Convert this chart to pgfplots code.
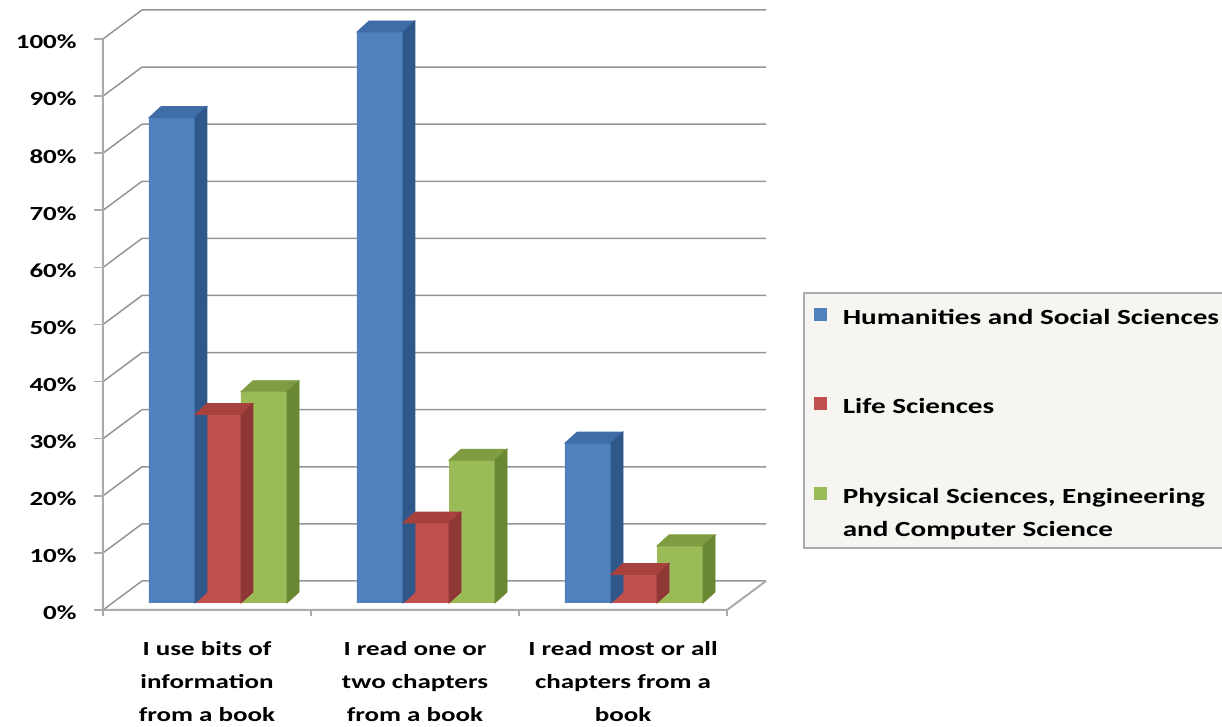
\documentclass[border=0pt]{standalone}
\usepackage{fontspec}
\setmainfont{Carlito}[FakeStretch=1.35]
\usepackage{pgfplots}
\usepackage{pgfplotstable}
\pgfplotsset{compat=1.18}

% Office-style palette: front face, top face, side face
\definecolor{hssfront}{HTML}{4F81BD}
\definecolor{hsstop}{HTML}{3F6DA8}
\definecolor{hssside}{HTML}{30578A}
\definecolor{lifefront}{HTML}{C0504D}
\definecolor{lifetop}{HTML}{A8413D}
\definecolor{lifeside}{HTML}{8E3734}
\definecolor{physfront}{HTML}{9BBB59}
\definecolor{phystop}{HTML}{7F9C43}
\definecolor{physside}{HTML}{6A8734}
\definecolor{gridgray}{HTML}{959595}
\definecolor{axisgray}{HTML}{ABABAB}
\definecolor{legendbg}{HTML}{F6F5F1}

% an empty mark: the scatter hook below draws the bar's depth faces
\pgfdeclareplotmark{void}{}

% share of respondents (%) per usage category
\pgfplotstableread{
cat val
0 85
1 100
2 28
}\tabhum
\pgfplotstableread{
cat val
0 33
1 14
2 5
}\tablife
\pgfplotstableread{
cat val
0 37
1 25
2 10
}\tabphys

\pgfplotsset{
  % top and side faces of a bar: #1 bar shift, #2 side colour, #3 top colour
  prism/.style n args={3}{
    only marks, mark=void, forget plot, scatter, point meta=y,
    visualization depends on={\thisrow{val} \as \barval},
    scatter/@pre marker code/.code={%
      \fill[#3] (#1-11.5pt,0pt) -- ++(6pt,5.5pt) -- ++(23pt,0pt) -- ++(-6pt,-5.5pt) -- cycle;
      \fill[#2] (#1+11.5pt,0pt) -- ++(6pt,5.5pt) -- ++(0pt,-\barval*2.855pt) -- ++(-6pt,-5.5pt) -- cycle;
    },
    scatter/@post marker code/.code={},
  },
  front/.style n args={2}{
    ybar, bar width=23pt, bar shift=#1, fill=#2, draw=none,
    legend image code/.code={\fill[#2] (0pt,-3.25pt) rectangle (6.5pt,3.25pt);},
  },
}

\begin{document}
\begin{tikzpicture}
\useasboundingbox (0,0) rectangle (611pt,363.5pt);
\begin{axis}[
  at={(57pt,62pt)}, anchor=south west,
  x=104pt, y=2.855pt,
  xmin=-0.5, xmax=2.5, ymin=0, ymax=100,
  clip=false,
  axis line style={draw=none},
  major tick length=0pt,
  xtick={0,1,2},
  xticklabels={{I use bits of\\information\\from a book},
               {I read one or\\two chapters\\from a book},
               {I read most or all\\chapters from a\\book}},
  xticklabel style={align=center, anchor=north, inner sep=0pt,
    xshift=-5.5pt, yshift=-19pt,
    font=\bfseries\fontsize{10}{16.5}\selectfont},
  ytick={0,10,...,100},
  yticklabels={0\%,10\%,20\%,30\%,40\%,50\%,60\%,70\%,80\%,90\%,100\%},
  yticklabel style={anchor=east, inner sep=0pt, xshift=-18.5pt, yshift=-5pt,
    font=\bfseries\fontsize{10}{12}\selectfont},
  legend style={
    at={(1.1042,0.5447)}, anchor=north west,
    draw=axisgray, fill=legendbg, line width=0.8pt,
    inner xsep=5pt, inner ysep=4.5pt, row sep=31.5pt, column sep=8pt,
    nodes={inner sep=0pt},
    cells={align=left},
    font=\bfseries\fontsize{10.8}{16.5}\selectfont,
  },
  legend cell align=left,
]
% side and back walls with their gridlines
\pgfplotsinvokeforeach{0,10,...,100}{
  \draw[gridgray, line width=0.75pt]
    ([xshift=-5.5pt,yshift=-3.5pt]axis cs:-0.5,#1)
    -- ([xshift=14pt,yshift=11pt]axis cs:-0.5,#1)
    -- ([xshift=14pt,yshift=11pt]axis cs:2.5,#1);
  \draw[axisgray, line width=0.8pt]
    ([xshift=-5.5pt,yshift=-3.5pt]axis cs:-0.5,#1) -- ++(-4.5pt,0pt);
}
% front edges of the wall and floor
\draw[axisgray, line width=1pt]
  ([xshift=-5.5pt,yshift=-3.5pt]axis cs:-0.5,100)
  -- ([xshift=-5.5pt,yshift=-3.5pt]axis cs:-0.5,0)
  -- ([xshift=-5.5pt,yshift=-3.5pt]axis cs:2.5,0)
  -- ([xshift=14pt,yshift=11pt]axis cs:2.5,0);
\pgfplotsinvokeforeach{-0.5,0.5,1.5,2.5}{
  \draw[axisgray, line width=0.8pt]
    ([xshift=-5.5pt,yshift=-3.5pt]axis cs:#1,0) -- ++(0pt,-3pt);
}

\addplot[prism={-23pt}{hssside}{hsstop}] table[x=cat,y=val]{\tabhum};
\addplot[front={-23pt}{hssfront}] table[x=cat,y=val]{\tabhum};
\addlegendentry{Humanities and Social Sciences\strut\hspace*{12pt}}

\addplot[prism={0pt}{lifeside}{lifetop}] table[x=cat,y=val]{\tablife};
\addplot[front={0pt}{lifefront}] table[x=cat,y=val]{\tablife};
\addlegendentry{Life Sciences\strut}

\addplot[prism={23pt}{physside}{phystop}] table[x=cat,y=val]{\tabphys};
\addplot[front={23pt}{physfront},
  legend image code/.code={\fill[physfront] (0pt,5pt) rectangle (6.5pt,11.5pt);}]
  table[x=cat,y=val]{\tabphys};
\addlegendentry{\strut Physical Sciences, Engineering\\and Computer Science\strut}
\end{axis}
\end{tikzpicture}
\end{document}
